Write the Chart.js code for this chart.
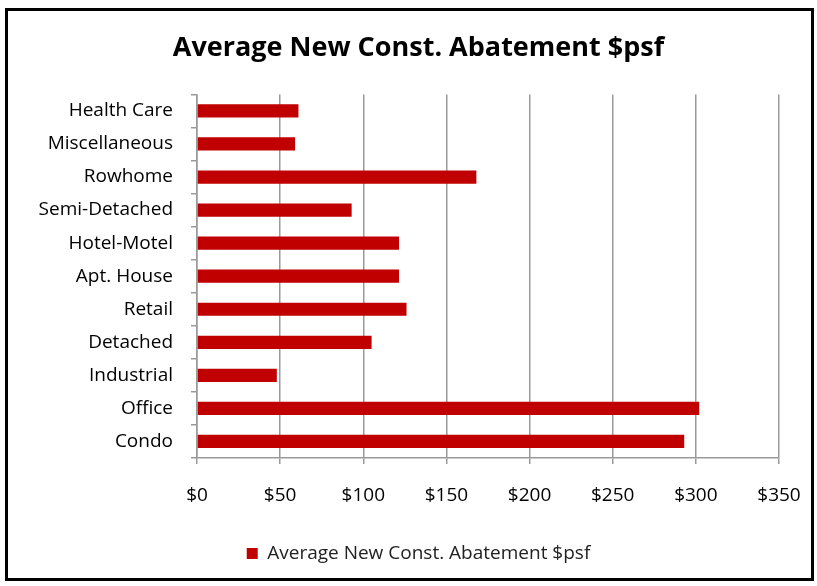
<!DOCTYPE html>
<html>
<head>
<meta charset="utf-8">
<script src="https://cdn.jsdelivr.net/npm/chart.js@4.4.0/dist/chart.umd.min.js"></script>
<style>
  html, body { margin: 0; padding: 0; background: #fff; }
  #frame {
    position: absolute;
    left: 5px;
    top: 8px;
    width: 803px;
    height: 567px;
    border: 3px solid #000;
  }
</style>
</head>
<body>
<div id="frame"><canvas id="chart" width="803" height="567"></canvas></div>
<script>
const categories = [
  "Health Care", "Miscellaneous", "Rowhome", "Semi-Detached", "Hotel-Motel",
  "Apt. House", "Retail", "Detached", "Industrial", "Office", "Condo"
];
const abatement = [61, 59, 168, 93, 121.5, 121.5, 126, 105, 48, 302, 293];
const seriesName = "Average New Const. Abatement $psf";
const chartTitle = "Average New Const. Abatement $psf";
const xMax = 350;
const xStep = 50;

const fontFamily = "'Open Sans', sans-serif";

const chart = new Chart(document.getElementById("chart").getContext("2d"), {
  type: "bar",
  data: {
    labels: categories,
    datasets: [
      {
        label: seriesName,
        data: abatement,
        backgroundColor: "#c00000",
        borderWidth: 0,
        barPercentage: 0.8,
        categoryPercentage: 0.5,
      },
    ],
  },
  options: {
    indexAxis: "y",
    responsive: false,
    animation: false,
    layout: { padding: { left: 28, right: 10, top: 0, bottom: 5 } },
    scales: {
      x: {
        min: 0,
        max: xMax,
        afterFit: (scale) => {
          scale.height = 70;
          scale.paddingRight = 32;
        },
        ticks: {
          stepSize: xStep,
          padding: 20,
          color: "#000",
          font: { family: fontFamily, size: 19 },
          callback: (v) => "$" + v,
        },
        grid: {
          color: "#9a9a9a",
          lineWidth: 1.5,
          tickLength: 6,
        },
        border: { color: "#9a9a9a", width: 1.5 },
      },
      y: {
        afterFit: (scale) => { scale.width = 161; },
        ticks: {
          padding: 18,
          color: "#000",
          font: { family: fontFamily, size: 19 },
        },
        grid: {
          offset: true,
          drawOnChartArea: false,
          color: "#9a9a9a",
          lineWidth: 1.5,
          tickLength: 6,
        },
        border: { color: "#9a9a9a", width: 1.5 },
      },
    },
    plugins: {
      title: {
        display: true,
        text: chartTitle,
        color: "#000",
        font: { family: fontFamily, size: 27, weight: "bold" },
        padding: { top: 21, bottom: 30 },
      },
      legend: {
        position: "bottom",
        labels: {
          boxWidth: 11,
          boxHeight: 11,
          padding: 16,
          color: "#222",
          font: { family: fontFamily, size: 19 },
        },
      },
      tooltip: { enabled: false },
    },
  },
});
</script>
</body>
</html>
